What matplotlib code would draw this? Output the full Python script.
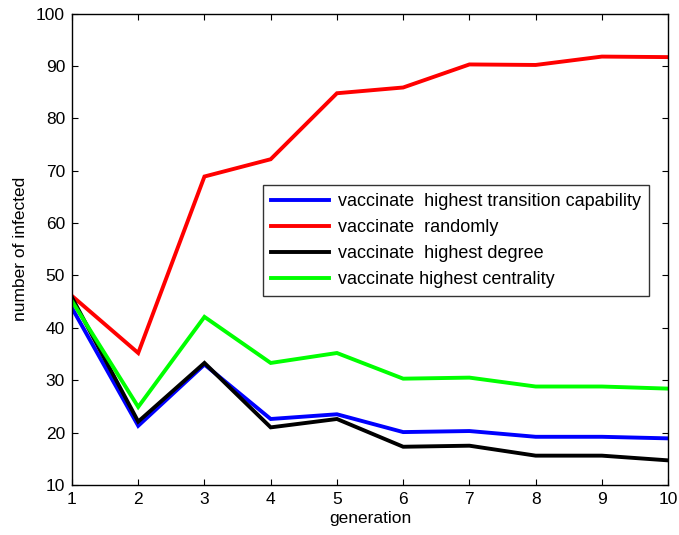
import matplotlib
matplotlib.use("Agg")
import matplotlib.pyplot as plt

generation = [1, 2, 3, 4, 5, 6, 7, 8, 9, 10]
transition = [43.8, 21.3, 33.0, 22.6, 23.5, 20.1, 20.3, 19.2, 19.2, 18.9]
randomly = [46.1, 35.2, 68.9, 72.2, 84.8, 85.9, 90.3, 90.2, 91.8, 91.7]
degree = [45.8, 22.1, 33.3, 21.0, 22.6, 17.3, 17.5, 15.6, 15.6, 14.7]
centrality = [45.1, 24.9, 42.1, 33.3, 35.2, 30.3, 30.5, 28.8, 28.8, 28.4]

labels = [
    "vaccinate  highest transition capability",
    "vaccinate  randomly",
    "vaccinate  highest degree",
    "vaccinate highest centrality",
]
colors = ["#0000ff", "#ff0000", "#000000", "#00ff00"]

plt.rcParams["font.family"] = ["Liberation Sans", "DejaVu Sans"]

fig = plt.figure(figsize=(6.79, 5.35), dpi=100)
ax = fig.add_axes([0.106, 0.0935, 0.878, 0.881])

for series, lab, col in zip([transition, randomly, degree, centrality], labels, colors):
    ax.plot(generation, series, color=col, lw=2.8, label=lab, solid_joinstyle="miter")

ax.set_xlim(1, 10)
ax.set_ylim(10, 100)
ax.set_xticks(range(1, 11))
ax.set_yticks(range(10, 101, 10))
ax.tick_params(direction="in", top=True, right=True, labelsize=12.5, length=4, width=0.8, pad=5)
for s in ax.spines.values():
    s.set_linewidth(1.0)
ax.set_xlabel("generation", fontsize=12.5, labelpad=3)
ax.set_ylabel("number of infected", fontsize=12.5, labelpad=6)

leg = ax.legend(loc="upper left", bbox_to_anchor=(0.32, 0.637), fontsize=13,
                frameon=True, fancybox=False, handlelength=3.2, borderpad=0.45,
                labelspacing=0.5, handletextpad=0.5, borderaxespad=0)
leg.get_frame().set_edgecolor("black")
leg.get_frame().set_linewidth(1.0)

fig.savefig("out.png", dpi=100)
